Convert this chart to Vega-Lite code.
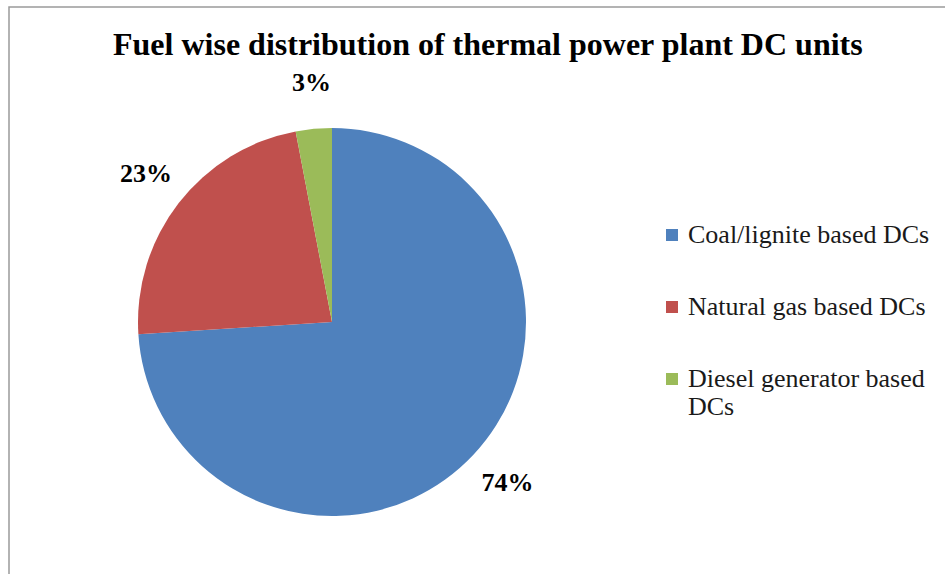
{
  "$schema": "https://vega.github.io/schema/vega-lite/v6.json",
  "width": 945,
  "height": 574,
  "padding": {"left": 9, "top": 7, "right": -12, "bottom": -12},
  "autosize": {"type": "fit", "contains": "padding"},
  "background": "white",
  "view": {"stroke": "#9a9a9a", "strokeWidth": 1.5},
  "config": {
    "view": {"stroke": "#9a9a9a", "strokeWidth": 1.5},
    "legend": {"labelFont": "Liberation Serif"},
    "text": {"font": "Liberation Serif"}
  },
  "title": {
    "text": "Fuel wise distribution of thermal power plant DC units",
    "font": "Liberation Serif",
    "fontSize": 32,
    "fontWeight": "bold",
    "color": "#000000",
    "anchor": "start",
    "offset": -55,
    "dx": 104
  },
  "data": {
    "values": [
      {"source": "Coal/lignite based DCs", "share": 74, "label": "74%", "order": 1},
      {"source": "Natural gas based DCs", "share": 23, "label": "23%", "order": 2},
      {"source": "Diesel generator based DCs", "share": 3, "label": "3%", "order": 3}
    ]
  },
  "layer": [
    {
      "mark": {"type": "arc", "radius": 194, "x": 323, "y": 315},
      "encoding": {
        "theta": {"field": "share", "type": "quantitative", "stack": true},
        "order": {"field": "order", "type": "quantitative"},
        "color": {
          "field": "source",
          "type": "nominal",
          "scale": {
            "domain": ["Coal/lignite based DCs", "Natural gas based DCs", "Diesel generator based DCs"],
            "range": ["#4F81BD", "#C0504D", "#9BBB59"]
          },
          "legend": {
            "title": null,
            "orient": "none",
            "legendX": 650,
            "legendY": 215,
            "symbolType": "square",
            "symbolSize": 144,
            "symbolStrokeWidth": 0,
            "symbolOpacity": 1,
            "labelFont": "Liberation Serif",
            "labelFontSize": 26,
            "labelColor": "#1a1a1a",
            "labelOffset": 3,
            "labelLimit": 400,
            "rowPadding": 46,
            "labelExpr": "datum.label == 'Diesel generator based DCs' ? ['Diesel generator based', 'DCs'] : datum.label"
          }
        }
      }
    },
    {
      "mark": {"type": "text", "radius": 238, "x": 325, "y": 313, "font": "Liberation Serif", "fontSize": 26, "fontWeight": "bold", "color": "#000000"},
      "encoding": {
        "theta": {"field": "share", "type": "quantitative", "stack": true},
        "order": {"field": "order", "type": "quantitative"},
        "text": {"field": "label", "type": "nominal"}
      }
    }
  ]
}
